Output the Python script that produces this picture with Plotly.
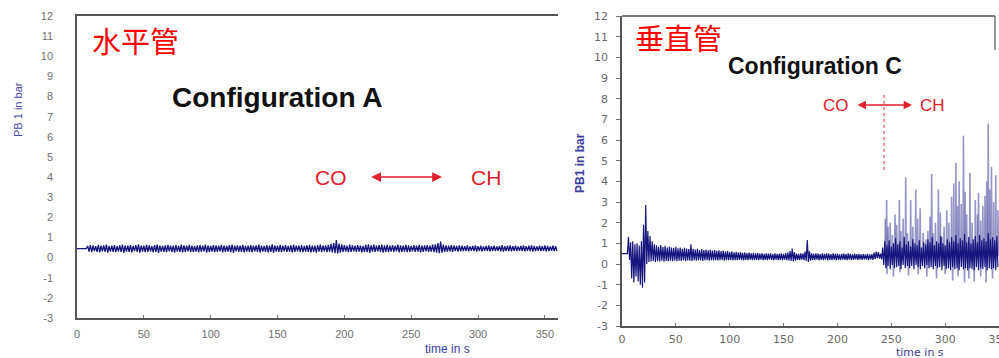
import plotly.graph_objects as go

# ---------------- data ----------------
# Configuration A (horizontal pipe): flat start, then min/max envelope per 2 s bin
left_start_t = [0, 7]
left_start_v = [0.45, 0.45]
left_t = list(range(8, 360, 2))
left_upper = [
    0.58, 0.62, 0.60, 0.57, 0.63, 0.59, 0.61, 0.64, 0.58, 0.60,
    0.62, 0.57, 0.61, 0.65, 0.59, 0.60, 0.63, 0.58, 0.62, 0.66,
    0.60, 0.59, 0.63, 0.61, 0.57, 0.62, 0.64, 0.60, 0.58, 0.61,
    0.63, 0.59, 0.60, 0.62, 0.58, 0.64, 0.61, 0.59, 0.63, 0.60,
    0.57, 0.61, 0.62, 0.59, 0.64, 0.60, 0.58, 0.62, 0.61, 0.59,
    0.63, 0.60, 0.58, 0.62, 0.65, 0.59, 0.61, 0.60, 0.63, 0.58,
    0.60, 0.62, 0.59, 0.61, 0.64, 0.60, 0.58, 0.62, 0.60, 0.66,
    0.61, 0.59, 0.63, 0.60, 0.62, 0.58, 0.61, 0.64, 0.59, 0.60,
    0.62, 0.58, 0.61, 0.63, 0.60, 0.59, 0.62, 0.64, 0.60, 0.61,
    0.63, 0.68, 0.72, 0.87, 0.70, 0.66, 0.62, 0.60, 0.64, 0.61,
    0.59, 0.62, 0.60, 0.58, 0.63, 0.66, 0.61, 0.64, 0.60, 0.62,
    0.65, 0.61, 0.63, 0.60, 0.62, 0.59, 0.64, 0.61, 0.60, 0.63,
    0.61, 0.58, 0.62, 0.60, 0.63, 0.59, 0.61, 0.62, 0.60, 0.64,
    0.66, 0.72, 0.80, 0.64, 0.61, 0.59, 0.62, 0.60, 0.58, 0.61,
    0.59, 0.57, 0.60, 0.56, 0.58, 0.61, 0.57, 0.59, 0.56, 0.58,
    0.60, 0.57, 0.59, 0.56, 0.58, 0.62, 0.57, 0.59, 0.60, 0.57,
    0.59, 0.56, 0.58, 0.60, 0.57, 0.59, 0.61, 0.58, 0.56, 0.59,
    0.57, 0.60, 0.58, 0.56, 0.59, 0.57,
]
left_lower = [
    0.30, 0.27, 0.32, 0.29, 0.26, 0.31, 0.28, 0.25, 0.30, 0.29,
    0.27, 0.31, 0.28, 0.24, 0.30, 0.29, 0.26, 0.32, 0.28, 0.25,
    0.30, 0.27, 0.29, 0.31, 0.26, 0.28, 0.24, 0.30, 0.29, 0.27,
    0.31, 0.28, 0.25, 0.30, 0.29, 0.26, 0.28, 0.31, 0.27, 0.29,
    0.30, 0.26, 0.28, 0.31, 0.25, 0.29, 0.30, 0.27, 0.28, 0.31,
    0.26, 0.29, 0.30, 0.27, 0.24, 0.31, 0.28, 0.29, 0.26, 0.30,
    0.28, 0.27, 0.31, 0.29, 0.25, 0.30, 0.28, 0.26, 0.29, 0.24,
    0.30, 0.28, 0.27, 0.31, 0.29, 0.30, 0.26, 0.28, 0.31, 0.29,
    0.27, 0.30, 0.28, 0.26, 0.29, 0.25, 0.30, 0.28, 0.31, 0.27,
    0.29, 0.26, 0.22, 0.20, 0.25, 0.28, 0.30, 0.27, 0.29, 0.31,
    0.28, 0.30, 0.26, 0.29, 0.27, 0.24, 0.30, 0.28, 0.31, 0.29,
    0.25, 0.29, 0.27, 0.30, 0.28, 0.31, 0.26, 0.29, 0.30, 0.27,
    0.29, 0.31, 0.28, 0.30, 0.26, 0.29, 0.31, 0.28, 0.30, 0.27,
    0.25, 0.22, 0.24, 0.28, 0.30, 0.31, 0.29, 0.32, 0.30, 0.31,
    0.32, 0.33, 0.31, 0.34, 0.32, 0.30, 0.33, 0.31, 0.34, 0.32,
    0.31, 0.33, 0.32, 0.34, 0.31, 0.30, 0.33, 0.32, 0.31, 0.34,
    0.32, 0.34, 0.33, 0.31, 0.33, 0.32, 0.30, 0.33, 0.34, 0.32,
    0.33, 0.31, 0.32, 0.34, 0.32, 0.33,
]

# Configuration C (vertical pipe): flat start, then min/max envelope per 2 s bin
right_start_t = [0, 5]
right_start_v = [0.5, 0.5]
right_t = list(range(6, 350, 2))
right_upper = [
    1.30, 1.05, 1.10, 0.95, 1.00, 0.90, 1.10, 1.90, 2.85, 1.60,
    1.35, 1.10, 0.95, 0.90, 0.85, 0.92, 0.82, 0.88, 0.80, 0.84,
    0.80, 0.78, 0.83, 0.76, 0.80, 0.74, 0.78, 0.75, 0.72, 0.95,
    0.74, 0.70, 0.73, 0.68, 0.71, 0.67, 0.70, 0.66, 0.69, 0.65,
    0.67, 0.64, 0.66, 0.62, 0.65, 0.60, 0.63, 0.58, 0.61, 0.57,
    0.59, 0.55, 0.58, 0.54, 0.56, 0.53, 0.55, 0.52, 0.54, 0.51,
    0.53, 0.50, 0.52, 0.49, 0.51, 0.50, 0.52, 0.48, 0.51, 0.49,
    0.50, 0.52, 0.49, 0.51, 0.55, 0.62, 0.75, 0.58, 0.50, 0.49,
    0.51, 0.52, 0.60, 1.16, 0.62, 0.51, 0.49, 0.52, 0.50, 0.48,
    0.51, 0.49, 0.52, 0.50, 0.48, 0.51, 0.49, 0.50, 0.47, 0.49,
    0.50, 0.48, 0.51, 0.49, 0.47, 0.50, 0.48, 0.49, 0.46, 0.48,
    0.47, 0.49, 0.46, 0.48, 0.55, 0.60, 0.58, 0.50, 0.80, 1.10,
    0.90, 1.15, 0.85, 1.00, 1.25, 0.95, 1.10, 0.80, 1.30, 0.95,
    1.10, 0.85, 1.20, 1.00, 0.90, 1.15, 0.80, 1.05, 0.95, 1.20,
    1.05, 1.30, 0.90, 1.10, 1.00, 1.35, 1.00, 0.90, 1.20, 1.05,
    1.30, 1.10, 1.40, 1.00, 1.25, 1.15, 1.45, 1.05, 1.30, 1.00,
    1.20, 1.35, 1.05, 1.40, 1.15, 1.25, 1.10, 1.50, 1.20, 1.30,
    1.15, 1.35,
]
right_lower = [
    0.20, -0.70, -0.90, -0.60, -0.85, -1.00, -1.15, -0.90, 0.00, 0.10,
    0.12, 0.15, 0.10, 0.14, 0.12, 0.16, 0.11, 0.15, 0.13, 0.16,
    0.14, 0.17, 0.13, 0.16, 0.15, 0.18, 0.14, 0.17, 0.16, 0.15,
    0.18, 0.16, 0.19, 0.17, 0.15, 0.18, 0.19, 0.16, 0.18, 0.17,
    0.19, 0.17, 0.18, 0.20, 0.16, 0.19, 0.18, 0.20, 0.17, 0.19,
    0.18, 0.20, 0.19, 0.17, 0.20, 0.18, 0.21, 0.19, 0.18, 0.20,
    0.19, 0.21, 0.18, 0.20, 0.19, 0.21, 0.20, 0.18, 0.21, 0.19,
    0.20, 0.18, 0.21, 0.19, 0.17, 0.15, 0.12, 0.16, 0.20, 0.19,
    0.21, 0.18, 0.15, 0.10, 0.16, 0.20, 0.19, 0.21, 0.18, 0.20,
    0.19, 0.21, 0.18, 0.20, 0.19, 0.21, 0.18, 0.20, 0.19, 0.21,
    0.20, 0.18, 0.21, 0.19, 0.20, 0.22, 0.19, 0.21, 0.20, 0.22,
    0.21, 0.19, 0.22, 0.20, 0.24, 0.28, 0.26, 0.22, -0.05, -0.20,
    -0.10, -0.25, -0.05, -0.20, -0.15, -0.10, -0.25, -0.05, -0.20, -0.10,
    -0.20, -0.10, -0.25, -0.05, -0.15, -0.25, -0.10, -0.20, -0.05, -0.20,
    -0.15, -0.25, -0.10, -0.20, -0.15, -0.30, -0.10, -0.25, -0.20, -0.30,
    -0.15, -0.25, -0.20, -0.30, -0.15, -0.25, -0.20, -0.30, -0.20, -0.25,
    -0.30, -0.15, -0.30, -0.20, -0.25, -0.15, -0.30, -0.20, -0.25, -0.20,
    -0.30, -0.15,
]

# Configuration C: lighter excursions (spikes up and dips down) after the CO->CH change
spike_base = 0.4
spike_t = [
    244.5, 245.7, 247.0, 249.0, 251.0, 253.5, 255.0, 257.5, 259.0, 261.0,
    263.4, 265.0, 268.0, 270.0, 272.7, 274.5, 276.8, 279.6, 282.0, 284.0,
    286.0, 287.5, 289.0, 291.0, 293.7, 295.5, 297.0, 299.0, 301.5, 303.5,
    306.0, 308.0, 310.0, 311.5, 313.0, 315.0, 317.0, 318.5, 320.0, 323.0,
    325.0, 328.0, 330.0, 331.0, 333.0, 335.0, 337.0, 338.6, 340.0, 341.5,
    343.0, 345.0, 347.0, 349.0,
]
spike_v = [
    2.2, 3.1, 1.8, 2.0, 1.4, 2.4, 1.9, 3.1, 1.6, 2.2,
    4.2, 1.5, 3.1, 1.8, 3.6, 2.2, 2.7, 1.5, 1.2, 1.6,
    2.3, 4.35, 1.5, 2.0, 3.6, 2.5, 1.3, 1.8, 2.6, 2.0,
    3.25, 3.9, 4.9, 2.8, 4.0, 2.9, 6.2, 3.5, 2.4, 4.4,
    2.0, 3.1, 2.4, 3.45, 2.1, 2.8, 3.3, 4.0, 6.8, 3.6,
    4.7, 3.0, 4.3, 2.6,
]
dip_t = [246, 252, 258, 266, 275, 283, 292, 300, 307, 312, 318, 322, 327, 333, 338, 344]
dip_v = [-0.5, -0.6, -0.4, -0.55, -0.5, -0.6, -0.7, -0.5, -0.8, -0.6, -0.9, -0.7, -0.85, -0.6, -0.9, -0.7]

x_ticks = [0, 50, 100, 150, 200, 250, 300, 350]
y_ticks = list(range(-3, 13))
y_ticktext = [str(v) for v in y_ticks]

# ---------------- build traces ----------------
def envelope(t0, v0, ts, up, lo):
    xs, ys = list(t0), list(v0)
    for t, u, l in zip(ts, up, lo):
        xs += [t, t + 1]
        ys += [u, l]
    return xs, ys

lx, ly = envelope(left_start_t, left_start_v, left_t, left_upper, left_lower)
rx, ry = envelope(right_start_t, right_start_v, right_t, right_upper, right_lower)

sx, sy = [], []
for t, v in list(zip(spike_t, spike_v)) + list(zip(dip_t, dip_v)):
    sx += [t - 0.4, t, t + 0.4, None]
    sy += [spike_base, v, spike_base, None]

NAVY = "#16167e"
fig = go.Figure()
fig.add_trace(go.Scatter(x=lx, y=ly, mode="lines", line=dict(color=NAVY, width=1.3),
                         xaxis="x", yaxis="y", showlegend=False, hoverinfo="skip"))
fig.add_trace(go.Scatter(x=sx, y=sy, mode="lines", line=dict(color="rgba(80,80,165,0.6)", width=1.6),
                         xaxis="x2", yaxis="y2", showlegend=False, hoverinfo="skip"))
fig.add_trace(go.Scatter(x=rx, y=ry, mode="lines", line=dict(color=NAVY, width=1.2),
                         xaxis="x2", yaxis="y2", showlegend=False, hoverinfo="skip"))

W, H = 999, 358
def px(x):
    return x / W
def py(y):
    return (H - y) / H

AXC = "#555555"
TICKF = dict(family="Liberation Sans, Arial, sans-serif", size=11, color="#707070")
TICKF2 = dict(family="DejaVu Sans, sans-serif", size=11, color="#6a6a6a")

fig.update_layout(
    width=W, height=H, margin=dict(l=0, r=0, t=0, b=0, autoexpand=False),
    paper_bgcolor="white", plot_bgcolor="white",
    xaxis=dict(domain=[px(77), px(558)], range=[0, 359.8], anchor="y", automargin=False,
               tickvals=x_ticks, ticks="inside", ticklen=3, tickcolor="#777",
               showline=True, linecolor=AXC, linewidth=1.5, mirror=True,
               showgrid=False, zeroline=False, tickfont=TICKF, ticklabelstandoff=5),
    yaxis=dict(domain=[py(318), py(16)], range=[-3, 12], anchor="x", automargin=False,
               tickvals=y_ticks, ticktext=y_ticktext, ticks="", showline=True,
               linecolor=AXC, linewidth=1.5,
               showgrid=False, zeroline=False, tickfont=TICKF, ticklabelstandoff=20),
    xaxis2=dict(domain=[px(622), 1.0], range=[0, 350], anchor="y2", automargin=False,
                tickvals=x_ticks, ticks="inside", ticklen=3, tickcolor="#777",
                showline=True, linecolor=AXC, linewidth=1.5, ticklabeloverflow="allow",
                showgrid=False, zeroline=False, tickfont=TICKF2, ticklabelstandoff=2),
    yaxis2=dict(domain=[py(326), py(16)], range=[-3, 12], anchor="x2", automargin=False,
                tickvals=y_ticks, ticktext=y_ticktext, ticks="outside", ticklen=4, tickcolor="#777",
                showline=True, linecolor=AXC, linewidth=1.5,
                showgrid=False, zeroline=False, tickfont=TICKF2, ticklabelstandoff=6),
)

# frame pieces of the right panel (top border and small box edge at the corner)
fig.add_shape(type="line", xref="paper", yref="paper", x0=px(622), x1=px(995), y0=py(16), y1=py(16),
              line=dict(color=AXC, width=1.5))
fig.add_shape(type="line", xref="paper", yref="paper", x0=px(995), x1=px(995), y0=py(16), y1=py(50),
              line=dict(color=AXC, width=1.2))

# dotted CO/CH boundary in Configuration C
fig.add_shape(type="line", xref="x2", yref="y2", x0=243.3, x1=243.3, y0=4.55, y1=8.2,
              line=dict(color="#e03040", width=1, dash="dot"))

RED = "#e0202c"
CJK = "Noto Sans CJK SC"
C = dict(xanchor="center", yanchor="middle", showarrow=False)
ANN = []
# panel A texts
ANN.append(dict(x=44.1, y=10.81, xref="x", yref="y", text="水平管",
                font=dict(family=CJK, size=29, color="#ff0000"), **C))
ANN.append(dict(x=149.6, y=7.97, xref="x", yref="y", text="<b>Configuration A</b>",
                font=dict(family="Liberation Sans, Arial", size=28, color="#111111"), **C))
ANN.append(dict(x=190, y=4.0, xref="x", yref="y", text="CO",
                font=dict(family="Liberation Sans, Arial", size=21, color=RED), **C))
ANN.append(dict(x=306, y=4.0, xref="x", yref="y", text="CH",
                font=dict(family="Liberation Sans, Arial", size=21, color=RED), **C))
ANN.append(dict(x=273, y=4.0, ax=219, ay=4.0, xref="x", yref="y", axref="x", ayref="y",
                text="", showarrow=True, arrowhead=2, arrowside="end+start", arrowsize=1.3,
                arrowwidth=1.5, arrowcolor=RED))
# panel C texts
ANN.append(dict(x=52, y=10.98, xref="x2", yref="y2", text="垂直管",
                font=dict(family=CJK, size=29, color="#ff0000"), **C))
ANN.append(dict(x=179.2, y=9.58, xref="x2", yref="y2", text="<b>Configuration C</b>",
                font=dict(family="Liberation Sans, Arial", size=23, color="#111111"), **C))
ANN.append(dict(x=198.7, y=7.69, xref="x2", yref="y2", text="CO",
                font=dict(family="Liberation Sans, Arial", size=17, color=RED), **C))
ANN.append(dict(x=287.8, y=7.69, xref="x2", yref="y2", text="CH",
                font=dict(family="Liberation Sans, Arial", size=17, color=RED), **C))
ANN.append(dict(x=269.3, y=7.69, ax=217.3, ay=7.69, xref="x2", yref="y2", axref="x2", ayref="y2",
                text="", showarrow=True, arrowhead=2, arrowside="end+start", arrowsize=1.2,
                arrowwidth=1.4, arrowcolor=RED))
# axis titles
ANN.append(dict(x=px(18), y=py(110), xref="paper", yref="paper", text="PB 1 in bar", textangle=-90,
                font=dict(family="Liberation Sans, Arial", size=11, color="#4a4aa6"), **C))
ANN.append(dict(x=px(580), y=py(163), xref="paper", yref="paper", text="<b>PB1 in bar</b>", textangle=-90,
                font=dict(family="Liberation Sans, Arial", size=12, color="#3c3c9c"), **C))
ANN.append(dict(x=px(447), y=py(349), xref="paper", yref="paper", text="time in s",
                font=dict(family="Liberation Sans, Arial", size=12, color="#3c3c9c"), **C))
ANN.append(dict(x=px(920), y=py(352), xref="paper", yref="paper", text="time in s",
                font=dict(family="DejaVu Sans", size=11, color="#3c3c9c"), **C))
fig.update_layout(annotations=ANN)

fig.write_html("out.html")
